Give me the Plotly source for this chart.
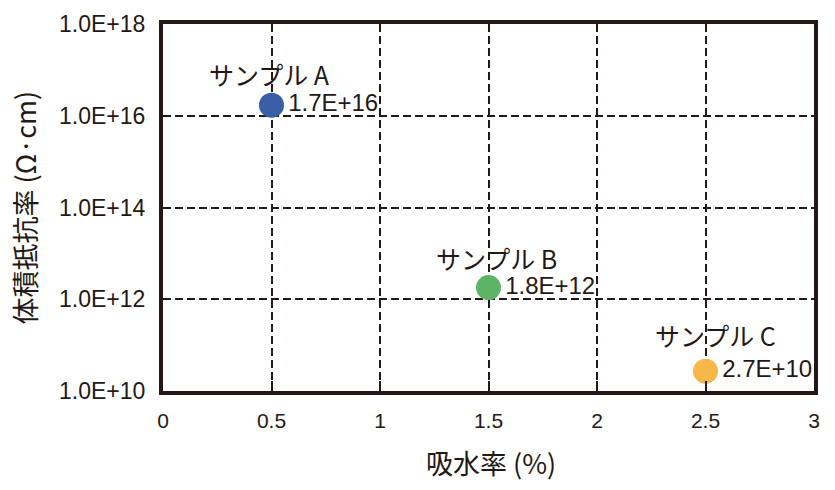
import math
import plotly.graph_objects as go

samples = ["サンプル A", "サンプル B", "サンプル C"]
water_absorption = [0.5, 1.5, 2.5]
resistivity = [1.7e16, 1.8e12, 2.7e10]
value_labels = ["1.7E+16", "1.8E+12", "2.7E+10"]
colors = ["#3B5EA8", "#5CB566", "#F7B84A"]
y_tickvals = [1e10, 1e12, 1e14, 1e16, 1e18]
y_ticktext = ["1.0E+10", "1.0E+12", "1.0E+14", "1.0E+16", "1.0E+18"]
x_tickvals = [0, 0.5, 1, 1.5, 2, 2.5, 3]
x_ticktext = ["0", "0.5", "1", "1.5", "2", "2.5", "3"]

# label offsets (pixels) relative to the markers – styling only
label_dx = [-2, 8, 10]
label_dy = [31, 30, 36]

num_font = "Liberation Sans, Arial, sans-serif"
jp_font = "Noto Sans CJK JP, sans-serif"
ink = "#231815"

fig = go.Figure()
fig.add_trace(go.Scatter(
    x=water_absorption, y=resistivity,
    mode="markers+text",
    marker=dict(size=25, color=colors, line=dict(width=0)),
    text=value_labels,
    textposition="middle right",
    textfont=dict(family=num_font, size=24, color=ink),
    cliponaxis=False,
    showlegend=False,
))

for name, xv, yv, dx, dy in zip(samples, water_absorption, resistivity, label_dx, label_dy):
    fig.add_annotation(
        x=xv, y=math.log10(yv), xref="x", yref="y",
        text=name, showarrow=False, xanchor="center", yanchor="middle",
        yshift=dy, xshift=dx,
        font=dict(family=jp_font, size=25, color=ink),
    )

fig.add_annotation(
    x=0.504, y=-0.196, xref="paper", yref="paper", text="吸水率 (%)",
    showarrow=False, xanchor="center", yanchor="middle",
    font=dict(family=jp_font, size=27, color=ink),
)
fig.add_annotation(
    x=-0.2135, y=0.5, xref="paper", yref="paper", text="体積抵抗率 (Ω·cm)",
    showarrow=False, xanchor="center", yanchor="middle", textangle=-90,
    font=dict(family=jp_font, size=27, color=ink),
)

fig.update_xaxes(
    range=[0, 3], tickvals=x_tickvals, ticktext=x_ticktext,
    showline=True, linewidth=4, linecolor=ink, mirror=True,
    ticks="inside", ticklen=10, tickwidth=1.5, tickcolor=ink,
    showgrid=True, gridcolor=ink, griddash="8px,4px", gridwidth=2,
    zeroline=False, ticklabelstandoff=8,
    tickfont=dict(family=num_font, size=21, color=ink),
)
fig.update_yaxes(
    type="log", range=[10, 18], tickvals=y_tickvals, ticktext=y_ticktext,
    showline=True, linewidth=4, linecolor=ink, mirror=True,
    ticks="", showgrid=True, gridcolor=ink, griddash="8px,4px", gridwidth=2,
    zeroline=False, ticklabelstandoff=9,
    tickfont=dict(family=num_font, size=23, color=ink),
)

fig.update_layout(
    width=835, height=490,
    margin=dict(l=163, r=21, t=24, b=99),
    paper_bgcolor="white", plot_bgcolor="white",
)

fig.write_html("out.html")
